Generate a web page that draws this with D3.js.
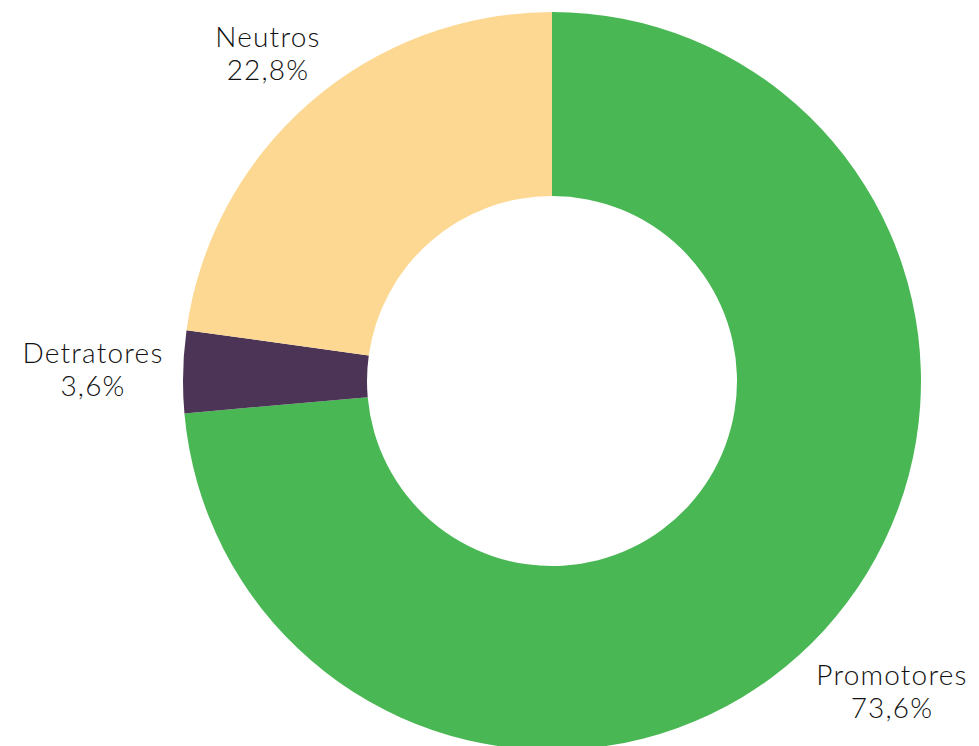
<!DOCTYPE html>
<html>
<head>
<meta charset="utf-8">
<script src="https://cdn.jsdelivr.net/npm/d3@7"></script>
<style>
  body { margin: 0; background: #fff; }
  text { font-family: "Lato", "Noto Sans", sans-serif; font-weight: 300; fill: #111; letter-spacing: 1.2px; }
</style>
</head>
<body>
<svg id="chart"></svg>
<script>
  const categories = ["Promotores", "Detratores", "Neutros"];
  const values = [73.6, 3.6, 22.8];
  const valueLabels = ["73,6%", "3,6%", "22,8%"];
  const colors = ["#49B754", "#4B3455", "#FDD893"];

  const width = 979, height = 746;
  const cx = 552, cy = 381;
  const outerR = 369, innerR = 185;

  const svg = d3.select("#chart")
    .attr("width", width)
    .attr("height", height);

  const pie = d3.pie().sort(null).value(d => d.value);
  const arc = d3.arc().innerRadius(innerR).outerRadius(outerR);

  const data = categories.map((c, i) => ({ name: c, value: values[i], label: valueLabels[i], color: colors[i] }));

  const g = svg.append("g").attr("transform", `translate(${cx},${cy})`);

  g.selectAll("path")
    .data(pie(data))
    .enter()
    .append("path")
      .attr("d", arc)
      .attr("fill", d => d.data.color);

  // label positions (name line y, relative to chart centre)
  const labelPos = {
    "Promotores": [340, 304],
    "Detratores": [-459, -18],
    "Neutros": [-284, -334]
  };

  const labels = svg.append("g").attr("transform", `translate(${cx},${cy})`);
  data.forEach(d => {
    const [x, y] = labelPos[d.name];
    const t = labels.append("text")
      .attr("x", x)
      .attr("y", y)
      .attr("text-anchor", "middle")
      .attr("font-size", 28);
    t.append("tspan").attr("x", x).attr("dy", 0).text(d.name);
    t.append("tspan").attr("x", x).attr("dy", 33).text(d.label);
  });
</script>
</body>
</html>
